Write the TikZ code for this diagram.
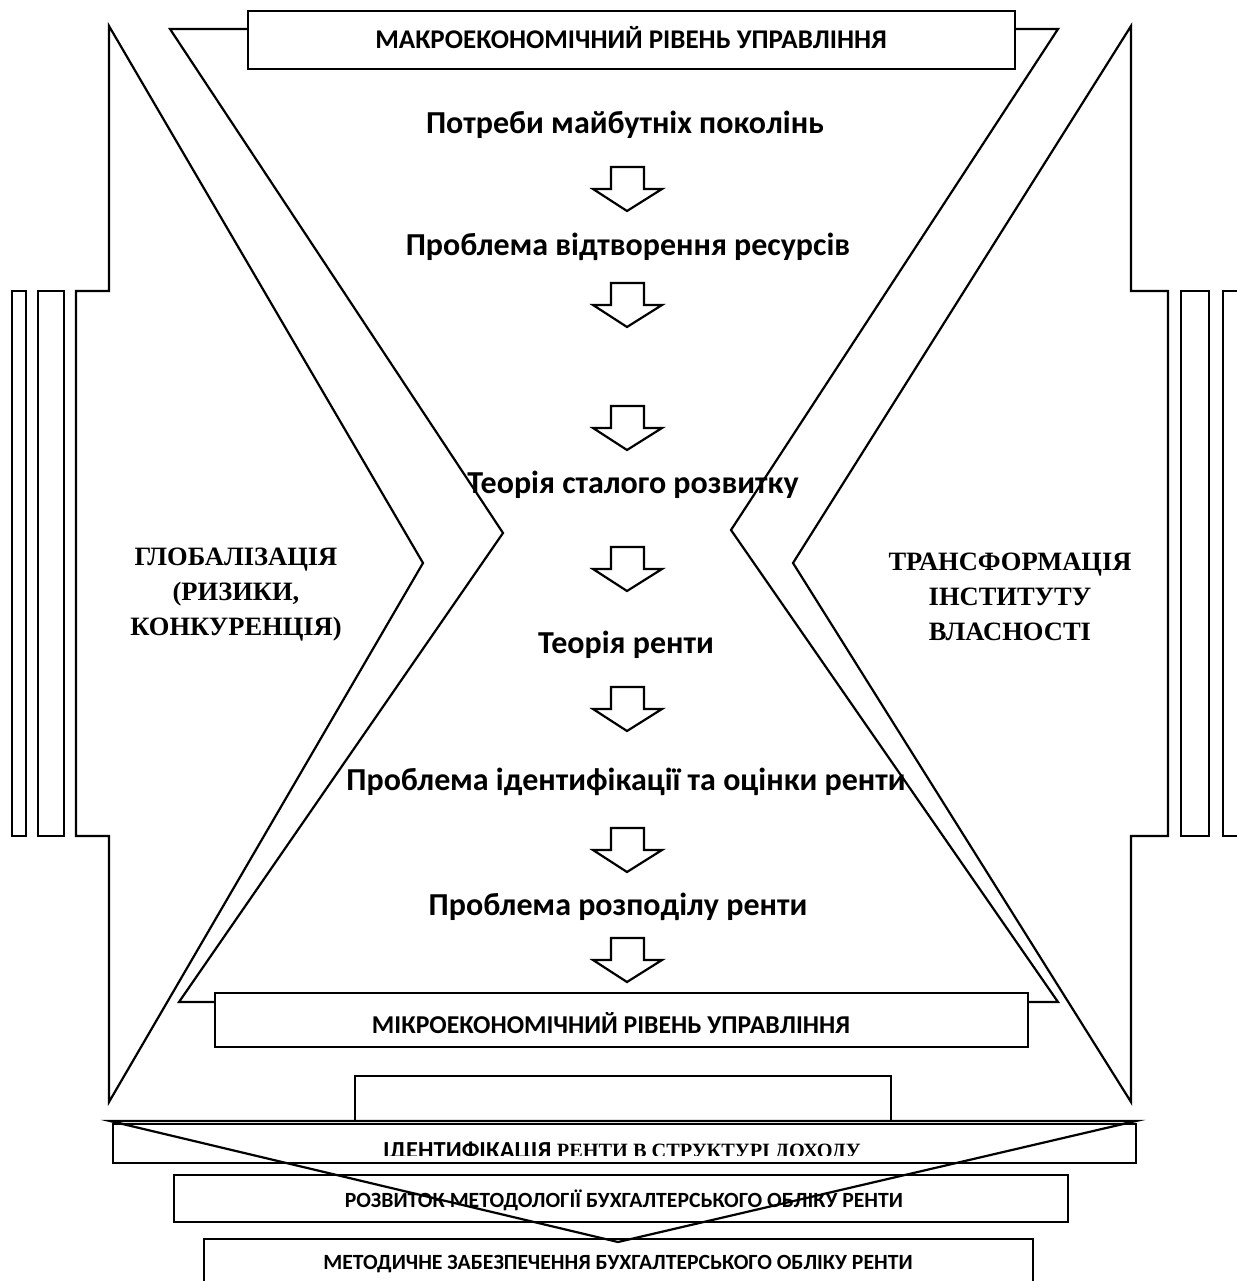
\documentclass[tikz,border=0pt]{standalone}
\usepackage{fontspec}
\setmainfont{Carlito}
\newfontfamily\timesfont{Liberation Serif}
\tikzset{
  edgeline/.style={draw, line width=2.2pt, line join=miter},
  plate/.style={draw, line width=2.2pt, fill=white},
  blockarr/.style={draw, line width=2.2pt, fill=white, line join=miter},
  stage/.style={font=\fontsize{32}{38}\selectfont\bfseries, inner sep=0pt, anchor=base},
  level/.style={font=\fontsize{26.5}{30}\selectfont\bfseries, inner sep=0pt, anchor=base},
  acct/.style={font=\fontsize{21.7}{25}\selectfont\bfseries, inner sep=0pt, anchor=base},
  side/.style={font=\timesfont\bfseries\fontsize{26.5}{35}\selectfont, align=center, inner sep=0pt}
}
\begin{document}
\begin{tikzpicture}[x=1pt, y=-1pt]
    \useasboundingbox (0,0) rectangle (1236,1281);

    % Left arrow (globalisation)
    \draw[edgeline] (109,26) -- (109,291) -- (76,291) -- (76,836) -- (109,836)
          -- (109,1102) -- (423,563) -- cycle;
    \draw[edgeline] (12,291) rectangle (26,836);
    \draw[edgeline] (38,291) rectangle (64,836);

    % Right arrow (property institute)
    \draw[edgeline] (1131,26) -- (1131,291) -- (1168,291) -- (1168,836) -- (1131,836)
          -- (1131,1102) -- (793,563) -- cycle;
    \draw[edgeline] (1181,291) rectangle (1209,836);
    \draw[edgeline] (1223,291) rectangle (1245,836);

    % Hourglass
    \draw[edgeline] (170,29) -- (1058,29) -- (731,530) -- (1058,1002)
          -- (179,1002) -- (503,533) -- cycle;

    % Level boxes
    \draw[plate] (248,11) rectangle (1015,69);
    \node[level, font=\fontsize{27}{30}\selectfont\bfseries] (macro) at (631,49) {МАКРОЕКОНОМІЧНИЙ РІВЕНЬ УПРАВЛІННЯ};
    \draw[plate] (215,993) rectangle (1028,1047);
    \node[level, font=\fontsize{25.7}{30}\selectfont\bfseries] (micro) at (611,1033) {МІКРОЕКОНОМІЧНИЙ РІВЕНЬ УПРАВЛІННЯ};

    % Block arrows
    \foreach \t in {167,283,406,547,687,828,938}
      \draw[blockarr] (611,\t) -- (644,\t) -- (644,\t+22) -- (662,\t+22)
            -- (627,\t+44) -- (593,\t+22) -- (611,\t+22) -- cycle;

    % Stages
    \node[stage] (needs) at (625,134) {Потреби майбутніх поколінь};
    \node[stage] (reprod) at (628,255) {Проблема відтворення ресурсів};
    \node[stage] (sustain) at (633,493) {Теорія сталого розвитку};
    \node[stage] (rent) at (626,653) {Теорія ренти};
    \node[stage] (ident) at (626,790) {Проблема ідентифікації та оцінки ренти};
    \node[stage] (distrib) at (618,915) {Проблема розподілу ренти};

    % Side labels
    \node[side] (glob) at (236,595) {ГЛОБАЛІЗАЦІЯ\\(РИЗИКИ,\\КОНКУРЕНЦІЯ)};
    \node[side] (transf) at (1010,597) {ТРАНСФОРМАЦІЯ\\ІНСТИТУТУ\\ВЛАСНОСТІ};

    % Accounting boxes
    \draw[plate] (355,1076) rectangle (891,1121);
    \draw[plate] (113,1124) rectangle (1136,1163);
    \draw[plate] (174,1175) rectangle (1068,1222);
    \draw[plate] (204,1239) rectangle (1033,1290);
    \begin{scope}
      \clip (113,1124) rectangle (1136,1155);
      \node[anchor=base west, inner sep=0pt] (income) at (383,1158)
        {{\fontsize{24.5}{28}\selectfont\bfseries ІДЕНТИФІКАЦІЯ\ }%
         \raisebox{0.8pt}{\timesfont\bfseries\fontsize{20.3}{24}\selectfont РЕНТИ В СТРУКТУРІ ДОХОДУ}};
    \end{scope}
    \node[acct] (method) at (624,1207) {РОЗВИТОК МЕТОДОЛОГІЇ БУХГАЛТЕРСЬКОГО ОБЛІКУ РЕНТИ};
    \node[acct] (support) at (618,1269) {МЕТОДИЧНЕ ЗАБЕЗПЕЧЕННЯ БУХГАЛТЕРСЬКОГО ОБЛІКУ РЕНТИ};
    \draw[edgeline] (110,1121) -- (1136,1121) -- (618,1242) -- cycle;
  \end{tikzpicture}
\end{document}
